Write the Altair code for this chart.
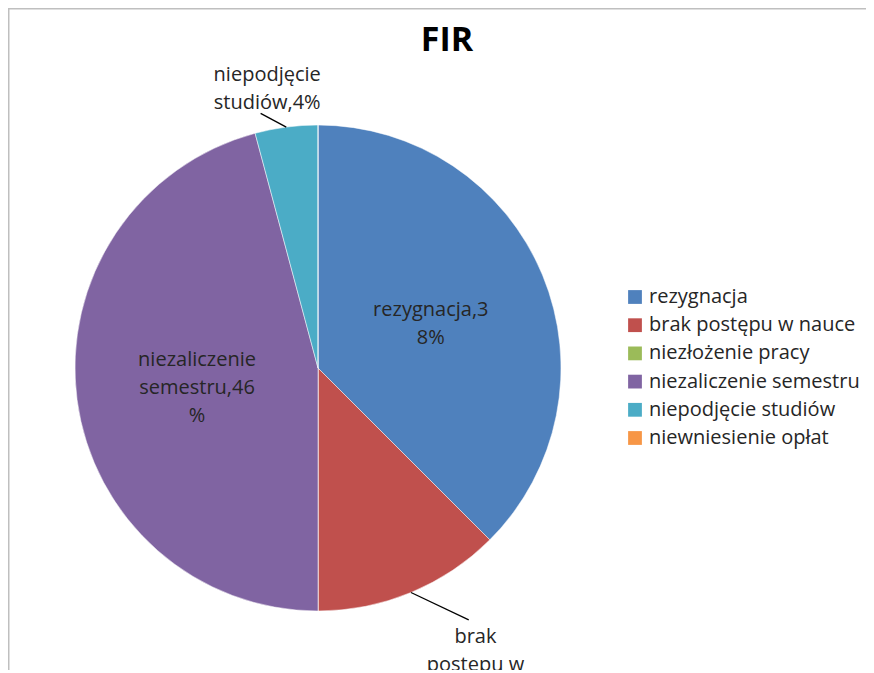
import altair as alt
import pandas as pd

title_text = "FIR"
categories = ["rezygnacja", "brak postępu w nauce", "niezłożenie pracy",
              "niezaliczenie semestru", "niepodjęcie studiów", "niewniesienie opłat"]
counts = [9, 3, 0, 11, 1, 0]
labels = ["rezygnacja,3\n8%", "brak\npostępu w\nnauce,13%", "",
          "niezaliczenie\nsemestru,46\n%", "niepodjęcie\nstudiów,4%", ""]
colors = ["#4F81BD", "#C0504D", "#9BBB59", "#8064A2", "#4BACC6", "#F79646"]

df = pd.DataFrame({"cat": categories, "n": counts, "label": labels,
                   "order": list(range(len(categories)))})

W, H = 858, 662
CX, CY, R = 310, 360, 243
FONT = "Open Sans"
TXT = "#262626"

color = alt.Color(
    "cat:N",
    scale=alt.Scale(domain=categories, range=colors),
    sort=categories,
    legend=alt.Legend(
        title=None, orient="none", legendX=617, legendY=279,
        symbolType="square", symbolSize=190, symbolStrokeWidth=0,
        labelFont=FONT, labelFontSize=20, labelColor=TXT, labelLimit=0,
        rowPadding=8.2, labelOffset=4, padding=0,
    ),
)

base = alt.Chart(df).encode(
    theta=alt.Theta("n:Q", stack=True),
    order=alt.Order("order:Q"),
    x=alt.value(CX),
    y=alt.value(CY),
)

arcs = base.mark_arc(radius=R, stroke="#ffffff", strokeWidth=0.5).encode(color=color)

text_style = dict(font=FONT, fontSize=20, color=TXT, lineBreak="\n", lineHeight=28,
                  align="center", baseline="middle")


def label_layer(cat, radius, dx, dy):
    return base.transform_calculate(
        t=f"datum.cat == '{cat}' ? datum.label : ''"
    ).mark_text(radius=radius, dx=dx, dy=dy, **text_style).encode(text="t:N")


lab_rez = label_layer(categories[0], 121, 1, -12)
lab_niez = label_layer(categories[3], 121, -1, -24)
lab_niep = label_layer(categories[4], 282, -14, -13)
lab_brak = label_layer(categories[1], 320, 35, -27)


def leader(cat, end_r, end_off_deg):
    off = end_off_deg * 3.141592653589793 / 180.0
    return alt.Chart(df).transform_joinaggregate(total="sum(n)").transform_window(
        cum="sum(n)", sort=[alt.SortField("order")], frame=[None, 0]
    ).transform_calculate(
        mid="2*PI*(datum.cum - datum.n/2)/datum.total"
    ).transform_filter(
        alt.datum.cat == cat
    ).transform_calculate(
        x1=f"{CX} + {R}*sin(datum.mid)",
        y1=f"{CY} - {R}*cos(datum.mid)",
        x2=f"{CX} + {end_r}*sin(datum.mid + {off})",
        y2=f"{CY} - {end_r}*cos(datum.mid + {off})",
    ).mark_rule(color="#000000", strokeWidth=1.3).encode(
        x=alt.X("x1:Q", scale=None, axis=None),
        y=alt.Y("y1:Q", scale=None, axis=None),
        x2="x2:Q",
        y2="y2:Q",
    )


lead_niep = leader(categories[4], 261, -5.2)
lead_brak = leader(categories[1], 293.5, -8.4)

title = alt.Chart(pd.DataFrame({"t": [title_text]})).mark_text(
    font=FONT, fontSize=34, fontWeight="bold", color="#000000",
    align="center", baseline="alphabetic"
).encode(text="t:N", x=alt.value(439), y=alt.value(43))

one = pd.DataFrame({"k": [0]})
border_top = alt.Chart(one).mark_rule(color="#BFBFBF", strokeWidth=1.5).encode(
    x=alt.value(0), x2=alt.value(W), y=alt.value(0.75))
border_left = alt.Chart(one).mark_rule(color="#BFBFBF", strokeWidth=1.5).encode(
    x=alt.value(0.75), y=alt.value(0), y2=alt.value(H))

chart = alt.layer(
    arcs, lab_rez, lab_niez, lab_niep, lab_brak, lead_niep, lead_brak, title,
    border_top, border_left
).properties(
    width=W, height=H, autosize=alt.AutoSizeParams(type="none"), padding=0,
    background="#ffffff",
).configure_view(stroke=None)

chart.save("out.html", embed_options={"renderer": "svg", "actions": False})
